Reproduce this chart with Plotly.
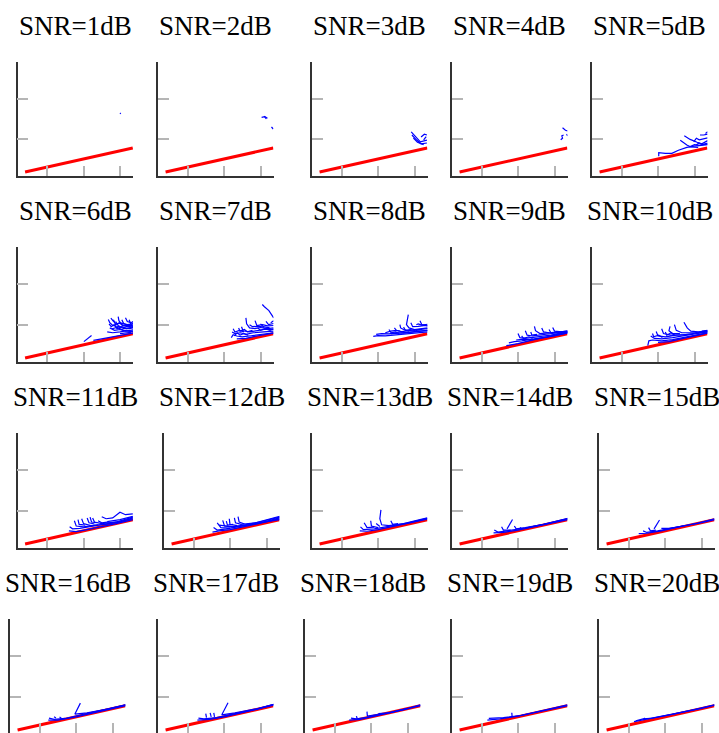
import plotly.graph_objects as go

# ---------------- data ----------------
snr_db = list(range(1, 21))
x_ticks = [1, 2, 3]
y_ticks = [1, 2]
x_range = [0.192, 3.356]
y_range = [0.075, 2.925]

# reference (red) line
red_x = [0.4, 3.35]
red_y = [0.175, 0.775]

# blue trajectories per SNR (each curve: list of (x, y))
blue_snr1 = [[(3.00, 1.65), (3.02, 1.63)]]
blue_snr2 = [[(3.03, 1.54), (3.12, 1.56), (3.19, 1.52)], [(3.10, 1.57), (3.16, 1.50)],
             [(3.30, 1.30), (3.35, 1.25)]]
blue_snr3 = [[(2.91, 1.18), (3.02, 1.06), (3.16, 0.93), (3.34, 0.97)],
             [(2.93, 1.10), (3.05, 0.98), (3.18, 0.88), (3.34, 0.90)],
             [(2.97, 1.02), (3.08, 0.92), (3.25, 0.86)],
             [(3.18, 1.05), (3.27, 1.12), (3.34, 1.10)],
             [(3.25, 0.98), (3.32, 1.06)]]
blue_snr4 = [[(3.22, 1.28), (3.30, 1.22), (3.36, 1.20)],
             [(3.17, 0.98), (3.22, 1.02), (3.20, 1.08), (3.25, 1.10)],
             [(3.33, 1.12), (3.36, 1.08)]]
blue_snr5 = [[(2.02, 0.57), (2.02, 0.66), (2.20, 0.64), (2.38, 0.64), (2.56, 0.72), (2.79, 0.79), (3.00, 0.82), (3.36, 0.86)],
             [(2.61, 0.97), (2.79, 0.85), (2.90, 0.80), (3.10, 0.79)],
             [(2.72, 1.08), (2.88, 0.99), (3.07, 0.92), (3.20, 0.88), (3.36, 0.96)],
             [(2.98, 0.93), (3.05, 1.02), (3.13, 0.98), (3.25, 1.01), (3.36, 1.03)],
             [(3.15, 1.10), (3.25, 1.10), (3.36, 1.12)],
             [(2.85, 0.80), (3.00, 0.86), (3.15, 0.84), (3.36, 0.90)],
             [(3.30, 1.14), (3.36, 1.18)],
             [(3.05, 0.85), (3.12, 0.90), (3.22, 0.86), (3.36, 0.88)]]
blue_snr6 = [[(2.01, 0.58), (2.12, 0.65), (2.22, 0.73)],
             [(2.27, 0.61), (2.45, 0.64), (2.63, 0.67), (2.90, 0.72), (3.10, 0.76), (3.36, 0.79)],
             [(2.68, 1.13), (2.72, 1.05), (2.80, 0.98), (2.95, 0.95), (3.10, 0.93), (3.36, 0.97)],
             [(2.75, 1.16), (2.82, 1.08), (2.90, 1.02), (3.05, 1.04), (3.20, 1.00), (3.36, 1.02)],
             [(2.72, 0.92), (2.85, 0.86), (3.00, 0.88), (3.15, 0.84), (3.36, 0.87)],
             [(2.65, 0.82), (2.80, 0.80), (3.00, 0.82), (3.20, 0.85), (3.36, 0.84)],
             [(2.95, 1.20), (2.97, 1.10), (3.05, 1.00), (3.20, 0.95), (3.36, 0.93)],
             [(3.15, 1.17), (3.20, 1.08), (3.30, 1.05), (3.36, 1.08)],
             [(2.88, 1.08), (2.95, 0.98), (3.10, 0.90), (3.25, 0.90), (3.36, 0.92)],
             [(3.05, 1.12), (3.10, 1.03), (3.22, 0.97), (3.36, 0.99)],
             [(2.78, 0.90), (2.92, 0.93), (3.10, 0.86), (3.36, 0.82)],
             [(3.25, 1.12), (3.30, 1.00), (3.36, 1.05)],
             [(2.70, 1.02), (2.76, 0.95), (2.84, 1.00), (2.92, 0.90), (3.05, 0.95), (3.18, 0.90), (3.36, 0.95)],
             [(2.82, 1.12), (2.88, 1.00), (2.98, 1.05), (3.08, 0.97), (3.28, 0.99)],
             [(3.00, 0.78), (3.15, 0.80), (3.30, 0.81)]]
blue_snr7 = [[(2.20, 0.68), (2.25, 0.75), (2.35, 0.72), (2.50, 0.70), (2.70, 0.72), (3.00, 0.76), (3.36, 0.80)],
             [(2.22, 0.82), (2.30, 0.78), (2.45, 0.80), (2.60, 0.76), (2.80, 0.80), (3.10, 0.82), (3.36, 0.84)],
             [(2.25, 0.90), (2.30, 0.82), (2.42, 0.86), (2.55, 0.82)],
             [(2.48, 0.95), (2.52, 0.85), (2.70, 0.82), (2.90, 0.85), (3.10, 0.88), (3.36, 0.88)],
             [(2.60, 1.17), (2.62, 1.02), (2.70, 0.92), (2.85, 0.90), (3.00, 0.93), (3.20, 0.90), (3.36, 0.92)],
             [(2.70, 1.00), (2.78, 0.95), (2.95, 0.96), (3.10, 0.94)],
             [(2.85, 1.10), (2.90, 0.98), (3.05, 1.00), (3.20, 0.97), (3.36, 0.98)],
             [(3.00, 1.02), (3.08, 0.95), (3.25, 0.92)],
             [(3.15, 1.08), (3.22, 1.00), (3.36, 1.03)],
             [(3.28, 1.05), (3.36, 1.10)],
             [(3.05, 1.50), (3.10, 1.45), (3.23, 1.35), (3.30, 1.25), (3.36, 1.17)],
             [(2.35, 0.65), (2.60, 0.66), (2.90, 0.72), (3.36, 0.79)],
             [(2.28, 0.72), (2.36, 0.80), (2.44, 0.74), (2.55, 0.78), (2.66, 0.74)],
             [(2.40, 0.92), (2.44, 0.84), (2.56, 0.88), (2.64, 0.82), (2.78, 0.86)],
             [(2.92, 0.92), (3.00, 0.86), (3.12, 0.90), (3.26, 0.86), (3.36, 0.90)]]
blue_snr8 = [[(1.87, 0.71), (2.00, 0.73), (2.20, 0.72), (2.40, 0.74), (2.60, 0.75), (2.90, 0.78), (3.36, 0.82)],
             [(1.95, 0.76), (2.10, 0.78), (2.30, 0.77), (2.50, 0.80), (2.70, 0.79), (3.00, 0.83), (3.36, 0.86)],
             [(2.20, 0.80), (2.35, 0.84), (2.50, 0.86), (2.65, 0.83), (2.90, 0.86), (3.36, 0.90)],
             [(2.83, 1.25), (2.81, 1.10), (2.78, 1.00), (2.85, 0.92), (3.00, 0.88), (3.36, 0.92)],
             [(2.60, 1.00), (2.62, 0.92), (2.70, 0.88), (2.85, 0.84)],
             [(2.90, 1.05), (2.95, 0.95), (3.10, 0.96), (3.30, 0.98), (3.36, 0.96)],
             [(3.05, 1.00), (3.10, 1.02), (3.20, 0.99), (3.36, 1.01)],
             [(2.45, 0.92), (2.50, 0.86), (2.60, 0.84)],
             [(3.15, 1.10), (3.20, 1.00), (3.36, 0.98)],
             [(2.35, 0.77), (2.70, 0.80), (3.10, 0.84), (3.36, 0.86)],
             [(2.30, 0.88), (2.36, 0.80), (2.48, 0.82), (2.58, 0.78)],
             [(2.70, 0.94), (2.75, 0.86), (2.88, 0.88), (3.02, 0.85), (3.20, 0.88)]]
blue_snr9 = [[(1.68, 0.48), (1.80, 0.50), (2.00, 0.53), (2.30, 0.60), (2.60, 0.66), (3.00, 0.72), (3.36, 0.80)],
             [(1.75, 0.55), (1.90, 0.58), (2.10, 0.60), (2.40, 0.65), (2.80, 0.70), (3.36, 0.82)],
             [(2.00, 0.78), (2.05, 0.68), (2.20, 0.66), (2.50, 0.70), (2.90, 0.74), (3.36, 0.83)],
             [(2.20, 0.85), (2.25, 0.74), (2.40, 0.72), (2.70, 0.76), (3.10, 0.80)],
             [(2.45, 0.96), (2.48, 0.85), (2.60, 0.78), (2.90, 0.80), (3.36, 0.84)],
             [(2.65, 0.92), (2.70, 0.82), (2.85, 0.80)],
             [(2.95, 0.93), (3.00, 0.84), (3.20, 0.82), (3.36, 0.85)],
             [(1.95, 0.62), (2.15, 0.64), (2.35, 0.62), (2.70, 0.68), (3.36, 0.79)],
             [(2.85, 0.88), (2.90, 0.80), (3.36, 0.81)],
             [(2.10, 0.72), (2.15, 0.66), (2.30, 0.70), (2.40, 0.66)],
             [(2.35, 0.82), (2.38, 0.74), (2.52, 0.76)]]
blue_snr10 = [[(1.72, 0.48), (1.75, 0.60), (1.85, 0.62), (2.10, 0.60), (2.40, 0.63), (2.80, 0.70), (3.36, 0.80)],
              [(1.80, 0.72), (1.90, 0.66), (2.10, 0.65), (2.40, 0.68), (2.80, 0.74), (3.36, 0.82)],
              [(1.95, 0.83), (2.00, 0.72), (2.20, 0.70), (2.50, 0.74), (2.90, 0.76)],
              [(2.10, 0.90), (2.15, 0.78), (2.35, 0.74), (2.70, 0.75), (3.36, 0.83)],
              [(2.33, 0.96), (2.30, 0.85), (2.40, 0.78), (2.60, 0.78)],
              [(2.45, 1.00), (2.50, 0.86), (2.65, 0.80), (3.00, 0.80), (3.36, 0.84)],
              [(2.71, 1.06), (2.80, 0.92), (2.90, 0.84), (3.10, 0.82), (3.36, 0.85)],
              [(2.00, 0.56), (2.30, 0.58), (2.70, 0.66), (3.36, 0.79)],
              [(3.20, 0.84), (3.36, 0.86)],
              [(1.85, 0.78), (1.88, 0.70), (2.02, 0.74), (2.12, 0.68)],
              [(2.20, 0.82), (2.24, 0.74), (2.36, 0.80), (2.46, 0.74)]]
blue_snr11 = [[(1.60, 0.50), (1.80, 0.48), (2.10, 0.53), (2.50, 0.60), (2.90, 0.68), (3.35, 0.78)],
              [(1.62, 0.60), (1.70, 0.55), (1.90, 0.56), (2.30, 0.62), (2.80, 0.70), (3.35, 0.80)],
              [(1.75, 0.75), (1.80, 0.62), (2.00, 0.60), (2.40, 0.65)],
              [(1.95, 0.80), (2.00, 0.68), (2.20, 0.63), (2.60, 0.66), (3.00, 0.72), (3.35, 0.82)],
              [(2.10, 0.82), (2.15, 0.70), (2.30, 0.67)],
              [(2.25, 0.82), (2.30, 0.72), (2.50, 0.68), (2.90, 0.72), (3.35, 0.84)],
              [(2.40, 0.75), (2.50, 0.70), (2.70, 0.72)],
              [(2.50, 0.85), (2.62, 0.80), (2.80, 0.82), (3.00, 0.96), (3.15, 0.90), (3.35, 0.92)],
              [(2.65, 0.73), (3.00, 0.78), (3.35, 0.86)],
              [(1.85, 0.78), (1.88, 0.66), (2.05, 0.64)],
              [(2.18, 0.84), (2.22, 0.72), (2.36, 0.70)]]
blue_snr12 = [[(1.52, 0.47), (1.70, 0.50), (2.00, 0.53), (2.40, 0.60), (2.90, 0.70), (3.36, 0.80)],
              [(1.55, 0.58), (1.65, 0.52), (1.90, 0.55), (2.30, 0.61), (2.80, 0.69), (3.36, 0.82)],
              [(1.65, 0.70), (1.75, 0.58), (2.00, 0.57)],
              [(1.80, 0.76), (1.85, 0.62), (2.05, 0.60), (2.40, 0.64), (2.80, 0.72), (3.36, 0.84)],
              [(1.98, 0.80), (2.00, 0.66), (2.20, 0.63)],
              [(2.12, 0.82), (2.15, 0.70), (2.30, 0.66), (2.70, 0.70), (3.36, 0.86)],
              [(2.22, 0.85), (2.25, 0.72), (2.40, 0.67)],
              [(1.70, 0.64), (2.10, 0.60), (2.60, 0.67), (3.36, 0.78)],
              [(1.90, 0.74), (1.93, 0.64), (2.08, 0.66)]]
blue_snr13 = [[(1.50, 0.50), (1.70, 0.49), (2.00, 0.53), (2.40, 0.60), (2.90, 0.70), (3.35, 0.79)],
              [(1.52, 0.60), (1.60, 0.53), (1.90, 0.55), (2.30, 0.61), (2.80, 0.69), (3.35, 0.81)],
              [(1.62, 0.70), (1.70, 0.58), (1.90, 0.59)],
              [(1.80, 0.75), (1.82, 0.62), (2.00, 0.58)],
              [(2.08, 1.02), (2.05, 0.80), (2.10, 0.65), (2.30, 0.63), (2.70, 0.68), (3.35, 0.82)],
              [(2.35, 0.75), (2.40, 0.66), (2.55, 0.68)],
              [(1.95, 0.68), (2.05, 0.61)]]
blue_snr14 = [[(1.33, 0.45), (1.60, 0.46), (2.00, 0.52), (2.50, 0.61), (3.00, 0.70), (3.36, 0.78)],
              [(1.35, 0.52), (1.45, 0.47), (1.70, 0.50), (2.20, 0.57), (2.80, 0.68), (3.36, 0.80)],
              [(1.55, 0.60), (1.60, 0.52), (1.80, 0.52)],
              [(1.85, 0.78), (1.75, 0.64), (1.70, 0.55)],
              [(1.90, 0.62), (1.95, 0.55), (2.20, 0.58), (2.70, 0.66), (3.36, 0.81)],
              [(2.05, 0.58), (2.10, 0.56)]]
blue_snr15 = [[(1.28, 0.43), (1.50, 0.44), (1.90, 0.50), (2.50, 0.62), (3.00, 0.70), (3.36, 0.78)],
              [(1.40, 0.50), (1.50, 0.46), (1.80, 0.50), (2.30, 0.58), (2.90, 0.69), (3.36, 0.80)],
              [(1.55, 0.58), (1.60, 0.50), (1.75, 0.52)],
              [(1.85, 0.77), (1.75, 0.62), (1.70, 0.55)],
              [(1.90, 0.56), (2.10, 0.56), (2.50, 0.62)]]
blue_snr16 = [[(1.24, 0.42), (1.50, 0.42), (2.00, 0.50), (2.50, 0.60), (3.00, 0.70), (3.36, 0.78)],
              [(1.26, 0.47), (1.40, 0.44), (1.70, 0.46), (2.20, 0.56), (2.80, 0.68), (3.36, 0.80)],
              [(1.40, 0.50), (1.45, 0.47)],
              [(2.12, 0.84), (2.00, 0.62), (1.97, 0.57), (2.30, 0.60), (2.90, 0.70), (3.36, 0.80)],
              [(1.55, 0.50), (1.60, 0.46)]]
blue_snr17 = [[(1.27, 0.42), (1.60, 0.44), (2.00, 0.50), (2.50, 0.60), (3.00, 0.70), (3.36, 0.79)],
              [(1.30, 0.47), (1.45, 0.45), (1.80, 0.48), (2.30, 0.57), (2.90, 0.69), (3.36, 0.81)],
              [(1.50, 0.58), (1.52, 0.48)],
              [(1.62, 0.60), (1.65, 0.50)],
              [(1.72, 0.60), (1.74, 0.50)],
              [(2.11, 0.85), (1.98, 0.62), (1.94, 0.55), (2.30, 0.60), (2.90, 0.70), (3.36, 0.81)]]
blue_snr18 = [[(1.40, 0.42), (1.70, 0.44), (2.10, 0.52), (2.60, 0.62), (3.00, 0.70), (3.36, 0.78)],
              [(1.45, 0.47), (1.60, 0.45), (1.90, 0.49), (2.40, 0.58), (2.90, 0.68), (3.36, 0.80)],
              [(1.60, 0.52), (1.62, 0.46)],
              [(1.89, 0.63), (1.90, 0.52), (2.20, 0.56)],
              [(2.20, 0.58), (2.50, 0.60), (3.00, 0.71)]]
blue_snr19 = [[(1.16, 0.42), (1.50, 0.45), (2.00, 0.52), (2.50, 0.61), (3.00, 0.70), (3.36, 0.78)],
              [(1.20, 0.46), (1.60, 0.48), (2.10, 0.54), (2.70, 0.66), (3.36, 0.80)],
              [(1.83, 0.60), (1.84, 0.50)]]
blue_snr20 = [[(1.15, 0.38), (1.50, 0.44), (2.00, 0.53), (2.50, 0.62), (3.00, 0.71), (3.36, 0.79)],
              [(1.20, 0.40), (1.40, 0.45), (1.60, 0.46), (2.20, 0.56), (2.80, 0.68), (3.36, 0.80)],
              [(1.40, 0.43), (1.45, 0.47)]]

blue_all = [blue_snr1, blue_snr2, blue_snr3, blue_snr4, blue_snr5, blue_snr6, blue_snr7,
            blue_snr8, blue_snr9, blue_snr10, blue_snr11, blue_snr12, blue_snr13, blue_snr14,
            blue_snr15, blue_snr16, blue_snr17, blue_snr18, blue_snr19, blue_snr20]

# ---------------- layout (pixels) ----------------
W, H = 719, 733
row_top = [62, 247, 433, 619]
row_bottom = [176, 362, 548, 733]
col_left = [[17.5, 158, 312, 452, 592],
            [17.5, 158, 312, 452, 592],
            [17.5, 164, 312, 452, 599],
            [10, 158, 305, 452, 599]]
panel_w = 115.5

fig = go.Figure()
annotations = []
layout_axes = {}

for i, snr in enumerate(snr_db):
    r, c = divmod(i, 5)
    n = i + 1
    xa = "x" if n == 1 else f"x{n}"
    ya = "y" if n == 1 else f"y{n}"
    x0 = col_left[r][c] / W
    x1 = (col_left[r][c] + panel_w) / W
    y0 = 1 - row_bottom[r] / H
    y1 = 1 - row_top[r] / H
    yr = list(y_range)
    if r == 3:
        yr = [y_range[0] + 1 / 40, y_range[1]]

    fig.add_trace(go.Scatter(x=red_x, y=red_y, mode="lines",
                             line=dict(color="#ff0000", width=3),
                             xaxis=xa, yaxis=ya, showlegend=False, hoverinfo="skip"))
    bx, by = [], []
    for curve in blue_all[i]:
        for px, py in curve:
            bx.append(px)
            by.append(py)
        bx.append(None)
        by.append(None)
    fig.add_trace(go.Scatter(x=bx, y=by, mode="lines",
                             line=dict(color="#0000ff", width=1.2),
                             xaxis=xa, yaxis=ya, showlegend=False, hoverinfo="skip"))

    key_x = "xaxis" if n == 1 else f"xaxis{n}"
    key_y = "yaxis" if n == 1 else f"yaxis{n}"
    layout_axes[key_x] = dict(domain=[x0, x1], range=x_range, anchor=ya,
                              tickmode="array", tickvals=x_ticks, showticklabels=False,
                              ticks="inside", ticklen=10, tickwidth=1.5, tickcolor="#b5b5b5",
                              showline=True, linecolor="#333333", linewidth=1.5,
                              showgrid=False, zeroline=False, fixedrange=True)
    layout_axes[key_y] = dict(domain=[y0, y1], range=yr, anchor=xa,
                              tickmode="array", tickvals=y_ticks, showticklabels=False,
                              ticks="inside", ticklen=11, tickwidth=1.5, tickcolor="#b5b5b5",
                              showline=True, linecolor="#333333", linewidth=1.5,
                              showgrid=False, zeroline=False, fixedrange=True)
    annotations.append(dict(text=f"SNR={snr}dB", xref="paper", yref="paper",
                            x=(x0 + x1) / 2, y=y1, xanchor="center", yanchor="bottom",
                            yshift=19, showarrow=False,
                            font=dict(family="Liberation Serif", size=27, color="#000000")))

fig.update_layout(width=W, height=H, margin=dict(l=0, r=0, t=0, b=0),
                  paper_bgcolor="white", plot_bgcolor="white",
                  annotations=annotations, **layout_axes)

fig.write_html("out.html")
